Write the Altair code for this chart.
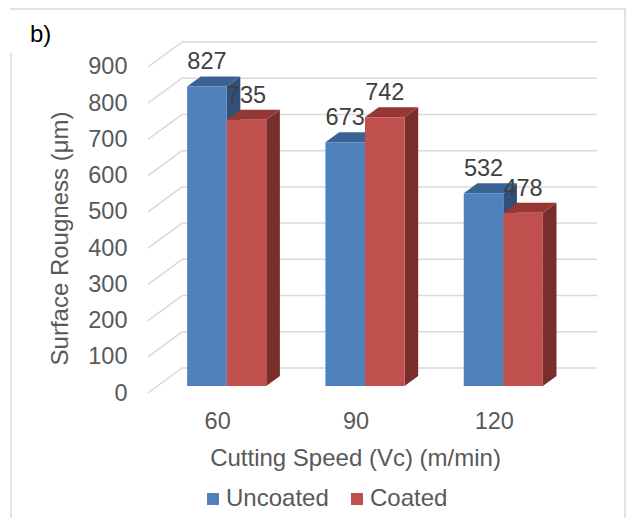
import json
import altair as alt
import pandas as pd

# ---- data ----
categories = ["60", "90", "120"]
series = ["Uncoated", "Coated"]
uncoated = [827, 673, 532]
coated = [735, 742, 478]
y_ticks = [0, 100, 200, 300, 400, 500, 600, 700, 800, 900]
y_title = "Surface Rougness (μm)"
x_title = "Cutting Speed (Vc) (m/min)"
panel_tag = "b)"

# ---- 3-D look (styles, in scale units) ----
N = len(categories)
Y_MAX = 900
BAR_W = 0.286          # width of one bar, in category units
WALL_DX = 34 / 138     # depth offset of the back wall, x (category units)
WALL_DY = 69           # depth offset of the back wall, y (value units)
FRONT, BACK = 0.28, 0.68   # bar front/back as fraction of the depth

blue, red = "#4F81BD", "#C0504D"
shade = {"Uncoated": ("#3A6394", "#30507C"), "Coated": ("#953735", "#7A2E2C")}
grid_col = "#D9D9D9"
txt_col = "#595959"
FONT = "Liberation Sans"
FS = 24
NUM_FS = 23.5

values = {"Uncoated": uncoated, "Coated": coated}
fdx, fdy = FRONT * WALL_DX, FRONT * WALL_DY
bdx, bdy = BACK * WALL_DX, BACK * WALL_DY
ddx, ddy = bdx - fdx, bdy - fdy

front_rows, top_rows, side_rows = [], [], []
for i, cat in enumerate(categories):
    for j, s in enumerate(series):
        v = values[s][i]
        xl = i + 0.5 + fdx - BAR_W + j * BAR_W
        xr = xl + BAR_W
        bid = f"{cat}-{s}"
        front_rows.append(dict(series=s, cat=cat, value=v, xl=xl, xr=xr,
                               xc=(xl + xr) / 2, y0=fdy, y1=v + fdy))
        top_rows += [dict(series=s, id=bid, y=v + fdy, x=xl, x2=xr),
                     dict(series=s, id=bid, y=v + bdy, x=xl + ddx, x2=xr + ddx)]
        side_rows += [dict(series=s, id=bid, x=xr, y=v + fdy, y2=fdy),
                      dict(series=s, id=bid, x=xr + ddx, y=v + bdy, y2=bdy)]

front_df = pd.DataFrame(front_rows)
top_df = pd.DataFrame(top_rows)
side_df = pd.DataFrame(side_rows)
grid_df = pd.DataFrame({"v": y_ticks})
grid_df["yb"] = grid_df["v"] + WALL_DY
grid_df["xa"] = 0.0
grid_df["xw"] = WALL_DX
grid_df["xe"] = N + WALL_DX

xs = alt.Scale(domain=[0, N + WALL_DX], nice=False, zero=False)
ys = alt.Scale(domain=[0, Y_MAX + WALL_DY], nice=False, zero=False)

label_expr = json.dumps(categories) + "[floor(datum.value)]"

ax_x = alt.Axis(values=[k + 0.5 for k in range(N)], labelExpr=label_expr,
                domain=False, ticks=False, grid=False, labelPadding=16,
                labelFontSize=NUM_FS, labelColor=txt_col, labelFont=FONT,
                titleFontSize=FS, titleFontWeight="normal", titleColor=txt_col,
                titleFont=FONT, titleX=207, titleY=65, titleBaseline="middle")
ax_y = alt.Axis(values=y_ticks, domain=False, ticks=False, grid=False,
                labelPadding=21, labelFontSize=NUM_FS, labelColor=txt_col,
                labelFont=FONT, titleFontSize=FS, titleFontWeight="normal",
                titleColor=txt_col, titleFont=FONT, titleX=-88, titleY=196,
                titleBaseline="middle", titleAlign="center", titleAngle=-90)


def X(f):
    return alt.X(f, scale=xs, axis=ax_x, title=x_title)


def Y(f):
    return alt.Y(f, scale=ys, axis=ax_y, title=y_title)


# left wall diagonals
diag = alt.Chart(grid_df).mark_rule(color=grid_col, strokeWidth=1.5).encode(
    x=X("xa:Q"), x2="xw:Q", y=Y("v:Q"), y2="yb:Q")

# back wall gridlines
back = alt.Chart(grid_df).mark_rule(color=grid_col, strokeWidth=1.5).encode(
    x=X("xw:Q"), x2="xe:Q", y=Y("yb:Q"))

layers = [diag, back]
color_scale = alt.Scale(domain=series, range=[blue, red])
for s in series:
    top_c, side_c = shade[s]
    side = alt.Chart(side_df).transform_filter(alt.datum.series == s).mark_area(
        color=side_c, orient="vertical").encode(
        x=X("x:Q"), y=Y("y:Q"), y2="y2:Q", detail="id:N")
    top = alt.Chart(top_df).transform_filter(alt.datum.series == s).mark_area(
        color=top_c, orient="horizontal").encode(
        y=Y("y:Q"), x=X("x:Q"), x2="x2:Q", detail="id:N")
    front = alt.Chart(front_df).transform_filter(alt.datum.series == s).mark_rect().encode(
        x=X("xl:Q"), x2="xr:Q", y=Y("y0:Q"), y2="y1:Q",
        color=alt.Color("series:N", scale=color_scale, sort=series,
                        legend=alt.Legend(title=None, orient="none", legendX=53, legendY=445,
                                          direction="horizontal", symbolType="square",
                                          symbolSize=144, symbolStrokeWidth=0,
                                          labelFontSize=FS, labelColor=txt_col,
                                          labelFont=FONT, labelOffset=1, columnPadding=16)),
    )
    layers += [side, top, front]

labels = alt.Chart(front_df).mark_text(fontSize=NUM_FS, color="#404040", font=FONT,
                                        baseline="middle", dy=-24).encode(
    x=X("xc:Q"), y=Y("y1:Q"), text="value:Q")
layers.append(labels)

tag = alt.Chart(pd.DataFrame({"t": [panel_tag]})).mark_text(
    fontSize=FS, color="#000000", font=FONT, align="left", baseline="middle").encode(
    x=alt.value(-118), y=alt.value(-7), text="t:N")
layers.append(tag)

# figure frame
one = pd.DataFrame({"a": [0]})
frame_top = alt.Chart(one).mark_rule(color=grid_col, strokeWidth=1.5).encode(
    x=alt.value(-138), x2=alt.value(478), y=alt.value(-33))
frame_left = alt.Chart(one).mark_rule(color=grid_col, strokeWidth=1.5).encode(
    x=alt.value(-137), y=alt.value(11), y2=alt.value(480))
frame_right = alt.Chart(one).mark_rule(color=grid_col, strokeWidth=1.5).encode(
    x=alt.value(477), y=alt.value(-33), y2=alt.value(480))
layers += [frame_top, frame_left, frame_right]

chart = alt.layer(*layers).properties(
    width=449, height=351,
    autosize=alt.AutoSizeParams(type="none"),
    padding={"left": 140, "top": 34, "right": 30, "bottom": 125},
).configure(background="white").configure_view(stroke=None)

chart.save("out.html", embed_options={"renderer": "svg", "actions": False})
